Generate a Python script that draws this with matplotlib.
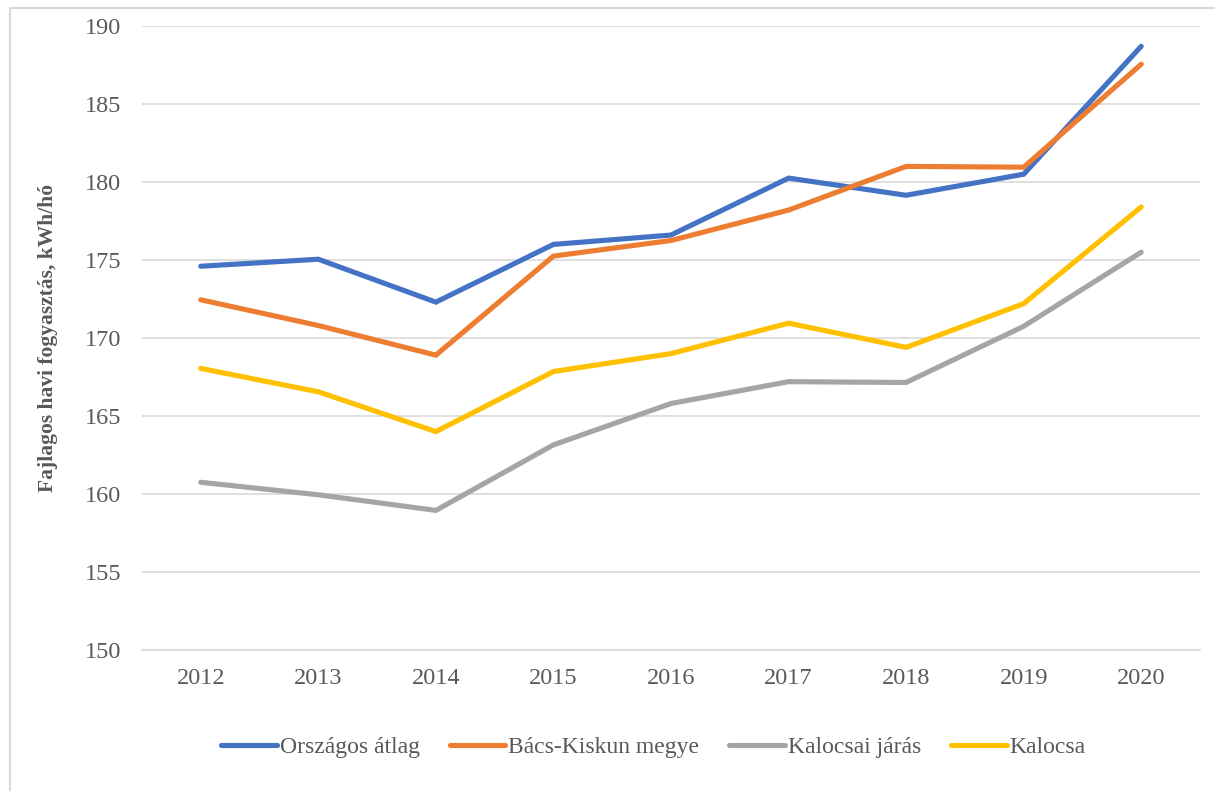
import matplotlib
matplotlib.use("Agg")
import matplotlib.pyplot as plt
from matplotlib.patches import Rectangle

years = ["2012", "2013", "2014", "2015", "2016", "2017", "2018", "2019", "2020"]
orszagos = [174.6, 175.05, 172.3, 176.0, 176.6, 180.25, 179.15, 180.5, 188.7]
bacs_kiskun = [172.45, 170.8, 168.9, 175.25, 176.25, 178.2, 181.0, 180.95, 187.55]
kalocsai_jaras = [160.75, 159.95, 158.95, 163.15, 165.8, 167.2, 167.15, 170.75, 175.5]
kalocsa = [168.05, 166.55, 164.0, 167.85, 169.0, 170.95, 169.4, 172.2, 178.4]

series = [
    ("Országos átlag", orszagos, "#4472C4"),
    ("Bács-Kiskun megye", bacs_kiskun, "#ED7D31"),
    ("Kalocsai járás", kalocsai_jaras, "#A5A5A5"),
    ("Kalocsa", kalocsa, "#FFC000"),
]

plt.rcParams["font.family"] = ["Liberation Serif", "DejaVu Serif"]
text_color = "#595959"

fig = plt.figure(figsize=(12.15, 7.91), dpi=100)
fig.patches.append(Rectangle((10 / 1215, -0.01), 1.02, 1 - 8 / 791 + 0.01,
                             transform=fig.transFigure, fill=False,
                             edgecolor="#D9D9D9", linewidth=1.5))
ax = fig.add_axes([142 / 1215, 1 - 650 / 791, 1058 / 1215, 624 / 791])

x = list(range(len(years)))
for name, vals, color in series:
    ax.plot(x, vals, color=color, linewidth=3.7, solid_capstyle="round",
            solid_joinstyle="miter", label=name)

ax.set_xlim(-0.5, len(years) - 0.5)
ax.set_ylim(150, 190)
ax.set_yticks(range(150, 191, 5))
ax.set_xticks(x)
ax.set_xticklabels(years)
ax.grid(axis="y", color="#D9D9D9", linewidth=1.2)
ax.set_axisbelow(True)
for side in ["top", "right", "left"]:
    ax.spines[side].set_visible(False)
ax.spines["bottom"].set_color("#D9D9D9")
ax.spines["bottom"].set_linewidth(1.2)
ax.tick_params(axis="both", length=0, labelsize=17.5, colors=text_color)
ax.tick_params(axis="x", pad=13)
ax.tick_params(axis="y", pad=15)

ax.set_ylabel("Fajlagos havi fogyasztás, kWh/hó", fontsize=15.5, fontweight="bold",
              color=text_color, labelpad=19)

fig.legend(loc="center", bbox_to_anchor=(0.538, 1 - 747 / 791), ncol=4, frameon=False,
           fontsize=17, labelcolor=text_color, handlelength=2.35, handletextpad=0.13,
           columnspacing=1.27)

fig.savefig("out.png", dpi=100)
